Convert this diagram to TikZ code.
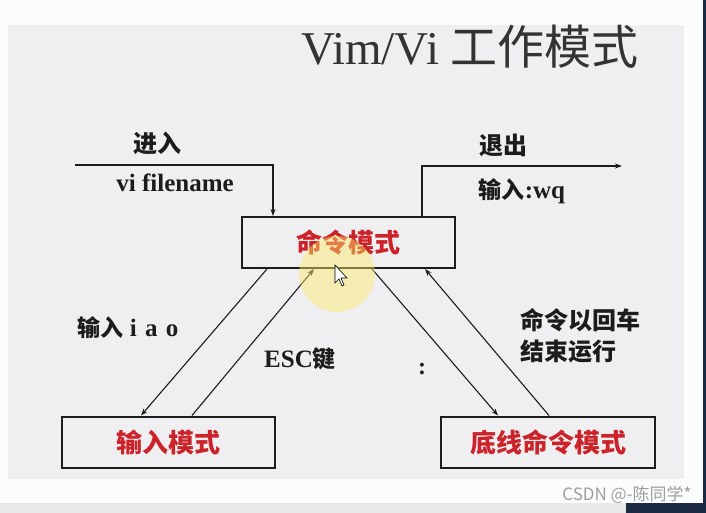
\documentclass[tikz,border=0pt]{standalone}
\usepackage{fontspec}
\setmainfont{Liberation Serif}
\newfontfamily\cjk{Noto Sans CJK SC}
\usetikzlibrary{arrows.meta,calc}
\definecolor{panel}{HTML}{EFEFF1}
\definecolor{outer}{HTML}{FBFCFC}
\definecolor{boxred}{HTML}{CC2229}
\definecolor{ink}{HTML}{1C1C1C}
\definecolor{navy}{HTML}{1C2A44}
\tikzset{
  modebox/.style={draw=ink, line width=2pt, fill=panel, minimum width=213pt,
    minimum height=51pt, inner sep=0pt, text=boxred,
    font=\cjk\bfseries\fontsize{26}{26}\selectfont},
  arr/.style={-{Stealth[length=7pt,width=5pt]}, line width=1.1pt, draw=ink},
  lbl/.style={text=ink, inner sep=0pt, font=\fontsize{25}{25}\selectfont},
}
\begin{document}
\begin{tikzpicture}[x=1pt,y=-1pt]
\useasboundingbox (0,0) rectangle (706,513);
% background
\fill[outer] (0,0) rectangle (706,513);
\fill[panel] (8,25) rectangle (684,479);
\fill[gray!18] (0,503) rectangle (706,513);
\fill[navy] (626,503) rectangle (706,513);
\fill[navy] (703,0) rectangle (706,513);
% title
\node[text=ink!90, inner sep=0pt, font=\fontsize{47}{47}\selectfont] (title) at (470,47) {Vim/Vi {\cjk 工作模式}};
% boxes
\node[modebox] (top) at (348.5,242.5) {命令模式};
\node[modebox] (left) at (168.5,442) {输入模式};
\node[modebox, minimum width=214pt] (right) at (548,442) {底线命令模式};
% entry / exit
\coordinate (in) at (75,165);
\coordinate (out) at (622,166);
\draw[arr] (in) -| ($(top.north west)+(32,0)$);
\draw[arr] ($(top.north west)+(181,0)$) |- (out);
% mode arrows
\draw[arr] ($(top.south west)+(26,0)$) -- ($(left.north west)+(80,0)$);
\draw[arr] ($(left.north west)+(131,0)$) -- ($(top.south west)+(73,0)$);
\draw[arr] ($(top.south west)+(131,0)$) -- ($(right.north west)+(58,0)$);
\draw[arr] ($(right.north west)+(109,0)$) -- ($(top.south west)+(184,0)$);
% labels
\node[lbl, font=\cjk\bfseries\fontsize{24}{24}\selectfont] (lin) at (157,143) {进入};
\node[lbl, font=\bfseries\fontsize{25}{25}\selectfont] (lfile) at (175,183) {vi filename};
\node[lbl, font=\cjk\bfseries\fontsize{24}{24}\selectfont] (lout) at (503,145) {退出};
\node[lbl] (lwq) at (522,191) {{\cjk\bfseries\fontsize{23}{23}\selectfont 输入}\textbf{:wq}};
\node[lbl] (liao) at (128,328) {{\cjk\bfseries\fontsize{23}{23}\selectfont 输入} \textbf{i\,\,a\,\,o}};
\node[lbl] (lesc) at (300,359) {\textbf{ESC}{\cjk\bfseries\fontsize{23}{23}\selectfont 键}};
\node[lbl, font=\bfseries\fontsize{24}{24}\selectfont] (lcolon) at (422,369) {:};
\node[lbl, anchor=north west, align=left, font=\cjk\bfseries\fontsize{24}{31}\selectfont] (lrun) at (520,308) {命令以回车\\结束运行};
% highlight and cursor
\fill[yellow!80!orange!60, opacity=0.45] (337,274) circle (38);
\draw[fill=white, line width=0.6pt] (335,265) -- (335,283) -- (339,279) -- (342,286) -- (344,285) -- (341,278) -- (347,278) -- cycle;
% watermark
\node[text=gray!75, inner sep=0pt, font=\cjk\fontsize{17}{17}\selectfont] (wm) at (627,495) {CSDN @-陈同学*};
\end{tikzpicture}
\end{document}
